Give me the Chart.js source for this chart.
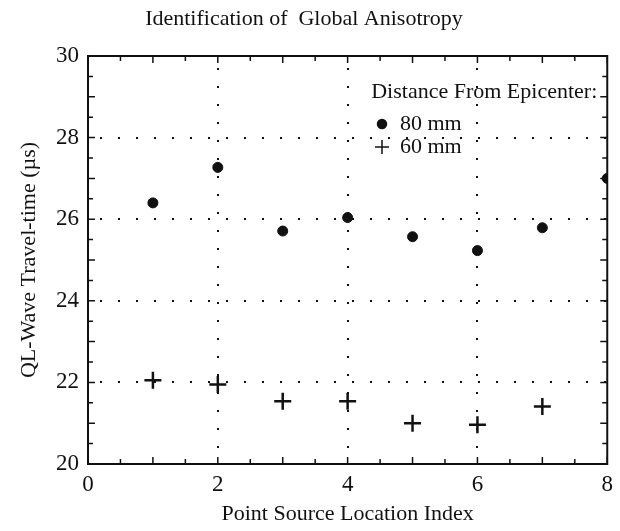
<!DOCTYPE html>
<html>
<head>
<meta charset="utf-8">
<script src="https://cdn.jsdelivr.net/npm/chart.js@4"></script>
<style>
  html, body { margin: 0; padding: 0; background: #fff; }
  #wrap { width: 620px; height: 531px; }
</style>
</head>
<body>
<div id="wrap"><canvas id="anisotropia"></canvas></div>
<script>
const indices = [1, 2, 3, 4, 5, 6, 7, 8]
const tiempo80 = [26.4, 27.27, 25.71, 26.04, 25.57, 25.23, 25.79, 27.0]
const tiempo60 = [22.05, 21.95, 21.54, 21.54, 21.0, 20.96, 21.41]
const ticksX = [0, 2, 4, 6, 8]
const ticksY = [20, 22, 24, 26, 28, 30]
const etiquetas = ['80 mm', '60 mm']
const titulo = 'Identification of  Global Anisotropy'
const tituloLeyenda = 'Distance From Epicenter:'

const fuente = "'Liberation Serif', 'Times New Roman', serif"
const tinta = '#111'

const puntos = (ys) => ys.map((y, i) => ({ x: indices[i], y: y }))

// marco, ticks hacia dentro y leyenda dentro del area
const marco = {
    id: 'marco',
    afterDraw(chart) {
        const { ctx, chartArea: a, scales: { x, y } } = chart
        ctx.save()
        ctx.strokeStyle = tinta
        ctx.lineWidth = 2
        ctx.strokeRect(a.left, a.top, a.right - a.left, a.bottom - a.top)
        ctx.lineWidth = 1.5
        ctx.beginPath()
        for (let v = x.min; v <= x.max; v += 0.5) {
            const px = x.getPixelForValue(v)
            const l = Number.isInteger(v) ? 7 : 5
            ctx.moveTo(px, a.bottom); ctx.lineTo(px, a.bottom - l)
            ctx.moveTo(px, a.top); ctx.lineTo(px, a.top + l)
        }
        for (let v = y.min; v <= y.max; v += 0.5) {
            const py = y.getPixelForValue(v)
            const l = Number.isInteger(v) ? 7 : 5
            ctx.moveTo(a.left, py); ctx.lineTo(a.left + l, py)
            ctx.moveTo(a.right, py); ctx.lineTo(a.right - l, py)
        }
        ctx.stroke()

        // leyenda
        ctx.fillStyle = tinta
        ctx.font = '22px ' + fuente
        ctx.textBaseline = 'middle'
        ctx.textAlign = 'right'
        ctx.fillText(tituloLeyenda, a.right - 10, a.top + 36)
        ctx.textAlign = 'left'
        const xm = a.left + 294
        const xt = a.left + 312
        chart.data.datasets.forEach((ds, i) => {
            const yy = a.top + 68 + i * 23
            Chart.helpers.drawPoint(ctx, {
                pointStyle: ds.pointStyle,
                radius: i === 0 ? 4.5 : 7,
                borderWidth: ds.pointBorderWidth
            }, xm, yy)
            ctx.fillStyle = tinta
            ctx.fillText(ds.label, xt, yy)
        })
        ctx.restore()
    }
}

const colorRejilla = (c) => {
    const s = c.chart.scales[c.scale.id] || c.scale
    return (c.tick.value === s.min || c.tick.value === s.max) ? 'rgba(0,0,0,0)' : tinta
}

new Chart(document.querySelector('#anisotropia'), {
    type: 'scatter',
    data: {
        datasets: [{
            label: etiquetas[0],
            data: puntos(tiempo80),
            pointStyle: 'circle',
            pointRadius: 5,
            pointBackgroundColor: tinta,
            pointBorderColor: tinta,
            pointBorderWidth: 1,
            clip: 0
        }, {
            label: etiquetas[1],
            data: puntos(tiempo60),
            pointStyle: 'cross',
            pointRadius: 8.5,
            pointBackgroundColor: tinta,
            pointBorderColor: tinta,
            pointBorderWidth: 2.5,
            clip: 0
        }]
    },
    options: {
        responsive: true,
        maintainAspectRatio: false,
        animation: false,
        events: [],
        layout: { padding: { left: 0, right: 12, top: 0, bottom: 0 } },
        plugins: {
            legend: { display: false },
            tooltip: { enabled: false },
            title: {
                display: true,
                text: titulo,
                color: tinta,
                font: { family: fuente, size: 22, weight: 'normal' },
                padding: { top: 6, bottom: 23.6 }
            }
        },
        scales: {
            x: {
                type: 'linear',
                min: 0,
                max: 8,
                afterBuildTicks: (s) => { s.ticks = ticksX.map(v => ({ value: v })) },
                afterFit: (s) => { s.height = 67 },
                ticks: { color: tinta, font: { family: fuente, size: 23 }, padding: 7 },
                grid: { color: colorRejilla, lineWidth: 2, drawTicks: false },
                border: { display: false, dash: [2, 16], dashOffset: 6 },
                title: {
                    display: true,
                    text: 'Point Source Location Index',
                    color: tinta,
                    font: { family: fuente, size: 22 },
                    padding: { top: 0, bottom: 4 }
                }
            },
            y: {
                type: 'linear',
                min: 20,
                max: 30,
                afterBuildTicks: (s) => { s.ticks = ticksY.map(v => ({ value: v })) },
                afterFit: (s) => { s.width = 88 },
                ticks: { color: tinta, font: { family: fuente, size: 23 }, padding: 9 },
                grid: { color: colorRejilla, lineWidth: 2, drawTicks: false },
                border: { display: false, dash: [2, 16], dashOffset: 6 },
                title: {
                    display: true,
                    text: 'QL-Wave Travel-time (µs)',
                    color: tinta,
                    font: { family: fuente, size: 22 },
                    padding: { top: 16, bottom: 0 }
                }
            }
        }
    },
    plugins: [marco]
})
</script>
</body>
</html>
